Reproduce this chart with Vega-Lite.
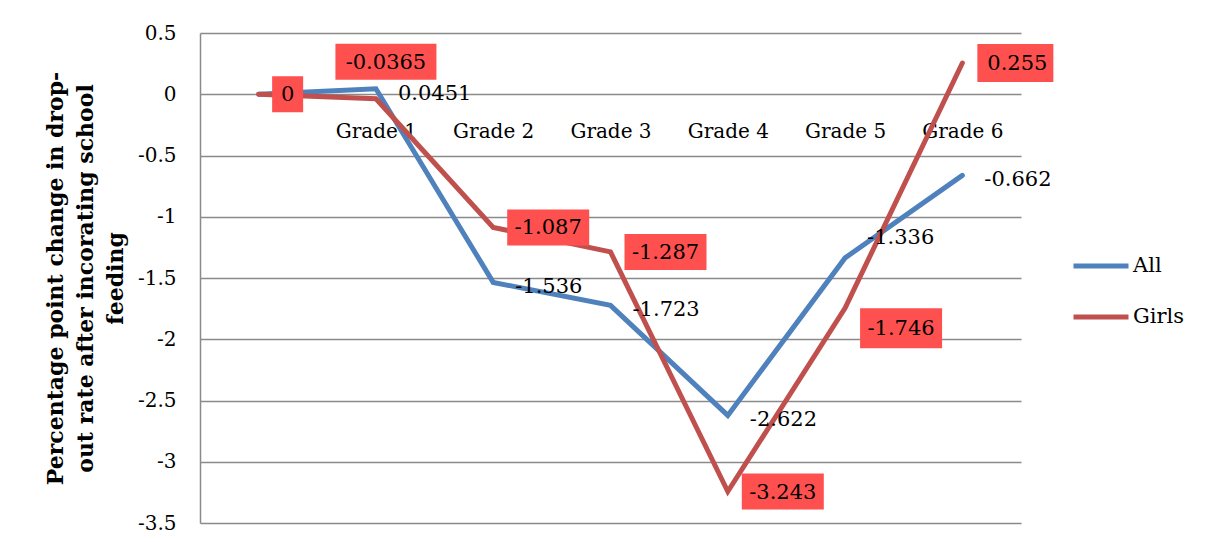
{
  "$schema": "https://vega.github.io/schema/vega-lite/v6.json",
  "width": 821,
  "height": 490,
  "autosize": {"type": "none"},
  "padding": {"left": 200, "top": 33, "right": 185, "bottom": 19},
  "background": "white",
  "config": {
    "font": "DejaVu Serif",
    "view": {"stroke": null},
    "axis": {"labelFont": "DejaVu Serif", "titleFont": "DejaVu Serif", "labelColor": "black", "titleColor": "black"}
  },
  "data": {
    "values": [
      {"grade": "Base", "series": "All", "value": 0},
      {"grade": "Grade 1", "series": "All", "value": 0.0451},
      {"grade": "Grade 2", "series": "All", "value": -1.536},
      {"grade": "Grade 3", "series": "All", "value": -1.723},
      {"grade": "Grade 4", "series": "All", "value": -2.622},
      {"grade": "Grade 5", "series": "All", "value": -1.336},
      {"grade": "Grade 6", "series": "All", "value": -0.662},
      {"grade": "Base", "series": "Girls", "value": 0},
      {"grade": "Grade 1", "series": "Girls", "value": -0.0365},
      {"grade": "Grade 2", "series": "Girls", "value": -1.087},
      {"grade": "Grade 3", "series": "Girls", "value": -1.287},
      {"grade": "Grade 4", "series": "Girls", "value": -3.243},
      {"grade": "Grade 5", "series": "Girls", "value": -1.746},
      {"grade": "Grade 6", "series": "Girls", "value": 0.255}
    ]
  },
  "encoding": {
    "x": {
      "field": "grade", "type": "ordinal",
      "sort": ["Base", "Grade 1", "Grade 2", "Grade 3", "Grade 4", "Grade 5", "Grade 6"],
      "scale": {"type": "point", "padding": 0.5},
      "axis": {
        "title": null, "orient": "bottom", "offset": -428.75,
        "domain": false, "ticks": false, "grid": false,
        "labelAngle": 0, "labelFontSize": 20, "labelPadding": 27,
        "labelExpr": "datum.value == 'Base' ? '' : datum.value"
      }
    },
    "y": {
      "field": "value", "type": "quantitative",
      "scale": {"domain": [-3.5, 0.5], "nice": false, "zero": false},
      "axis": {
        "title": ["Percentage point change in drop-", "out rate after incorating school", "feeding"],
        "titleFontSize": 22, "titleFontWeight": "bold", "titleLineHeight": 30, "titlePadding": 10,
        "values": [0.5, 0, -0.5, -1, -1.5, -2, -2.5, -3, -3.5],
        "labelExpr": "'' + datum.value",
        "labelFontSize": 20, "labelPadding": 24, "ticks": false,
        "grid": true, "gridColor": "#8a8a8a", "gridWidth": 1.5,
        "domain": true, "domainColor": "#8a8a8a", "domainWidth": 1.5
      }
    }
  },
  "layer": [
    {
      "mark": {"type": "line", "strokeWidth": 5, "strokeJoin": "miter", "strokeCap": "round"},
      "encoding": {
        "color": {
          "field": "series", "type": "nominal",
          "scale": {"domain": ["All", "Girls"], "range": ["#4F81BD", "#C0504D"]},
          "legend": {
            "title": null, "orient": "none", "legendX": 871, "legendY": 203,
            "symbolType": "stroke", "symbolSize": 3025, "symbolStrokeWidth": 5,
            "labelFontSize": 21, "labelFont": "DejaVu Serif", "labelColor": "black",
            "labelOffset": 2, "rowPadding": 11, "padding": 0
          }
        }
      }
    },
    {
      "transform": [{"filter": "datum.series == 'All' && datum.grade != 'Base' && datum.grade != 'Grade 5'"}],
      "mark": {"type": "text", "align": "left", "baseline": "middle", "dx": 22, "dy": 5, "fontSize": 21, "color": "black"},
      "encoding": {"text": {"field": "value", "type": "nominal"}}
    },
    {
      "transform": [{"filter": "datum.series == 'All' && datum.grade == 'Grade 5'"}],
      "mark": {"type": "text", "align": "left", "baseline": "middle", "dx": 22, "dy": -20, "fontSize": 21, "color": "black"},
      "encoding": {"text": {"field": "value", "type": "nominal"}}
    },
    {
      "transform": [{"filter": "datum.series == 'Girls' && indexof(['Grade 2','Grade 3','Grade 4'], datum.grade) >= 0"}],
      "mark": {"type": "point", "filled": true, "color": "#FF5050", "opacity": 1, "strokeWidth": 0, "size": 10000, "xOffset": 55, "shape": "M-0.82,-0.36H0.82V0.36H-0.82Z"}
    },
    {
      "transform": [{"filter": "datum.series == 'Girls' && datum.grade == 'Grade 6'"}],
      "mark": {"type": "point", "filled": true, "color": "#FF5050", "opacity": 1, "strokeWidth": 0, "size": 10000, "xOffset": 53, "shape": "M-0.76,-0.38H0.76V0.38H-0.76Z"}
    },
    {
      "transform": [{"filter": "datum.series == 'Girls' && datum.grade == 'Grade 5'"}],
      "mark": {"type": "point", "filled": true, "color": "#FF5050", "opacity": 1, "strokeWidth": 0, "size": 10000, "xOffset": 56, "yOffset": 20, "shape": "M-0.82,-0.4H0.82V0.4H-0.82Z"}
    },
    {
      "transform": [{"filter": "datum.series == 'Girls' && datum.grade == 'Grade 1'"}],
      "mark": {"type": "point", "filled": true, "color": "#FF5050", "opacity": 1, "strokeWidth": 0, "size": 10000, "xOffset": 10, "yOffset": -37, "shape": "M-1.01,-0.36H1.01V0.36H-1.01Z"}
    },
    {
      "transform": [{"filter": "datum.series == 'Girls' && datum.grade == 'Base'"}],
      "mark": {"type": "point", "filled": true, "color": "#FF5050", "opacity": 1, "strokeWidth": 0, "size": 10000, "xOffset": 29, "shape": "M-0.31,-0.36H0.31V0.36H-0.31Z"}
    },
    {
      "transform": [{"filter": "datum.series == 'Girls' && indexof(['Grade 2','Grade 3','Grade 4','Grade 6'], datum.grade) >= 0"}],
      "mark": {"type": "text", "align": "center", "baseline": "middle", "dx": 55, "dy": 1, "fontSize": 21, "color": "black"},
      "encoding": {"text": {"field": "value", "type": "nominal"}}
    },
    {
      "transform": [{"filter": "datum.series == 'Girls' && datum.grade == 'Grade 5'"}],
      "mark": {"type": "text", "align": "center", "baseline": "middle", "dx": 56, "dy": 21, "fontSize": 21, "color": "black"},
      "encoding": {"text": {"field": "value", "type": "nominal"}}
    },
    {
      "transform": [{"filter": "datum.series == 'Girls' && datum.grade == 'Grade 1'"}],
      "mark": {"type": "text", "align": "center", "baseline": "middle", "dx": 10, "dy": -36, "fontSize": 21, "color": "black"},
      "encoding": {"text": {"field": "value", "type": "nominal"}}
    },
    {
      "transform": [{"filter": "datum.series == 'Girls' && datum.grade == 'Base'"}],
      "mark": {"type": "text", "align": "center", "baseline": "middle", "dx": 29, "dy": 1, "fontSize": 21, "color": "black"},
      "encoding": {"text": {"field": "value", "type": "nominal"}}
    }
  ]
}
